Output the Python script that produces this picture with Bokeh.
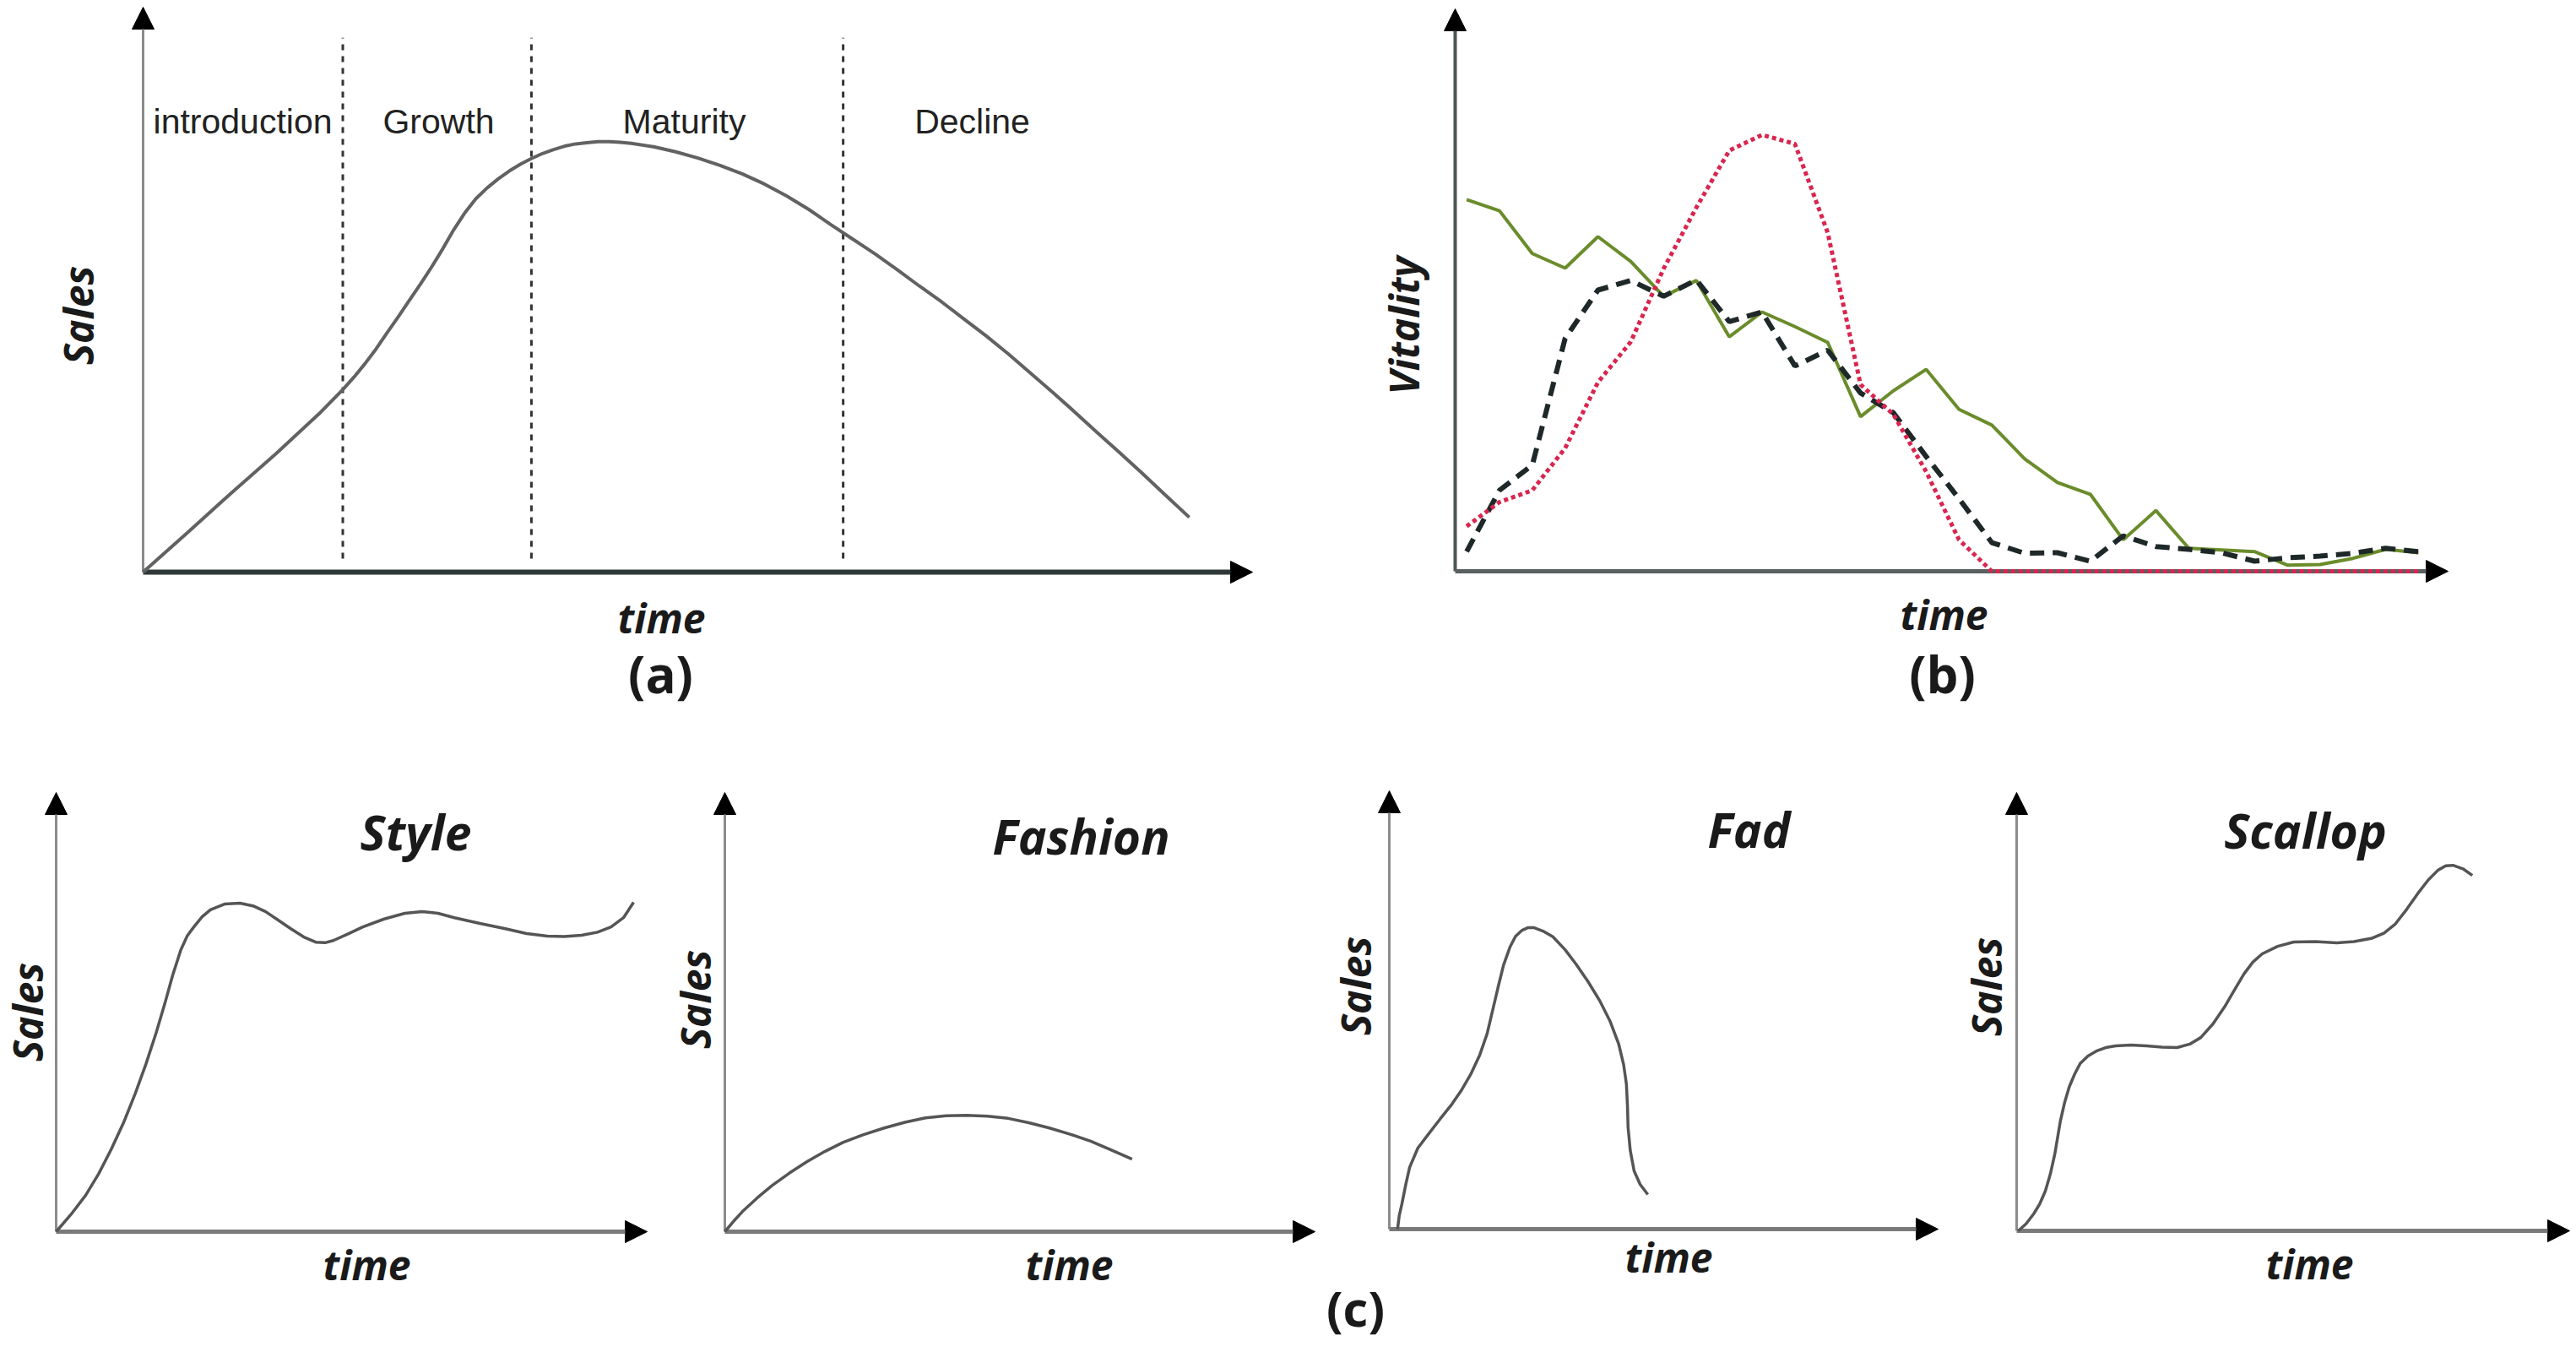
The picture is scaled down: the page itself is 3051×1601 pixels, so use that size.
import math
from bokeh.plotting import figure
from bokeh.models import Range1d, Arrow, NormalHead, Label
from bokeh.layouts import column, row
from bokeh.embed import file_html
from bokeh.resources import INLINE

# ---------------- data ----------------
# (a) product life cycle
plc_time = [0, 4, 8, 12, 16, 18, 19, 20, 21, 22, 23, 24, 25, 26, 27, 28, 29, 30, 31, 32, 33,
            34, 35, 36, 37, 38, 39, 40, 41, 42, 43, 44, 46, 48, 50, 52, 54, 56, 58, 60, 62,
            64, 66, 68, 70, 72, 74, 76, 78, 80, 82, 84, 86, 88, 90, 92, 94.3]
plc_sales = [0, 7.0, 14.1, 21.0, 28.3, 32.3, 34.5, 36.9, 39.5, 42.4, 45.2, 48.1, 51.0, 54.0,
             57.2, 60.6, 63.6, 66.1, 68.0, 69.6, 71.0, 72.2, 73.2, 74.1, 74.8, 75.4, 75.8,
             76.0, 76.2, 76.2, 76.1, 75.9, 75.3, 74.4, 73.3, 72.0, 70.5, 68.7, 66.6, 64.2,
             61.5, 58.9, 56.3, 53.5, 50.6, 47.8, 44.8, 41.8, 38.6, 35.2, 31.8, 28.3, 24.7,
             21.2, 17.6, 13.9, 9.7]
phase_bounds = [18.0, 35.0, 63.1]
phase_names = ["introduction", "Growth", "Maturity", "Decline"]

# (b) vitality of three series over time
vit_time = list(range(30))
vit_green = [66.1, 64.1, 56.5, 53.9, 59.5, 55.1, 48.9, 51.7, 41.7, 46.1, 43.5, 40.7, 27.5,
             32.1, 35.9, 28.8, 26.0, 20.0, 15.8, 13.7, 5.6, 10.8, 4.1, 3.8, 3.5, 1.1, 1.2,
             2.3, 3.9, 3.3]
vit_red = [8.0, 12.3, 14.4, 21.9, 33.6, 40.8, 53.8, 64.7, 74.8, 77.6, 76.0, 60.2, 33.2,
           27.9, 17.7, 5.6, 0, 0, 0, 0, 0, 0, 0, 0, 0, 0, 0, 0, 0, 0]
vit_black = [3.5, 14.4, 18.9, 41.4, 50.0, 51.7, 48.9, 51.8, 44.4, 46.1, 36.5, 39.3, 31.7,
             28.2, 20.4, 12.9, 5.1, 3.2, 3.3, 1.8, 6.3, 4.4, 3.9, 3.3, 1.8, 2.4, 2.7, 3.2,
             4.1, 3.5]

# (c) four life-cycle patterns
style_time = [0, 2.5, 5.0, 7.2, 9.3, 11.4, 13.4, 15.2, 16.9, 18.4, 19.7, 21.1, 22.2, 23.3,
              24.7, 26.1, 28.5, 31.1, 33.3, 35.4, 37.5, 39.7, 41.9, 44.0, 45.5, 46.9, 49.4,
              51.9, 55.5, 59.0, 61.9, 64.6, 67.4, 71.7, 76.0, 79.6, 83.1, 86.0, 88.9, 91.6,
              93.9, 96.0, 97.7]
style_sales = [0, 3.9, 8.3, 13.2, 18.7, 24.8, 31.5, 38.2, 45.2, 52.0, 58.3, 64.2, 67.4, 69.4,
               71.7, 73.3, 74.6, 74.8, 74.2, 72.9, 71.0, 69.0, 67.1, 65.9, 65.8, 66.3, 67.8,
               69.4, 71.2, 72.5, 72.9, 72.5, 71.5, 70.2, 69.0, 67.9, 67.3, 67.2, 67.5, 68.2,
               69.4, 71.5, 75.0]
fashion_time = [0, 1.5, 3, 5.5, 8, 11, 14, 17, 20, 23.5, 27, 30.5, 34, 37.5, 41, 44.5, 48,
                51.5, 55, 58.5, 62, 65.5, 69]
fashion_sales = [0, 2.4, 4.6, 7.7, 10.5, 13.4, 16.0, 18.3, 20.3, 22.1, 23.6, 24.9, 25.9,
                 26.4, 26.5, 26.3, 25.8, 24.8, 23.6, 22.2, 20.6, 18.6, 16.5]
fad_time = [1.5, 1.8, 2.3, 3.0, 3.7, 5.2, 7.2, 9.3, 11.4, 13.2, 14.9, 16.5, 17.8, 18.8, 19.8,
            20.8, 22.0, 23.0, 24.2, 25.3, 26.3, 28.0, 29.8, 32.0, 34.0, 36.2, 38.3, 40.2,
            41.8, 42.7, 43.2, 43.4, 43.5, 43.9, 44.6, 45.7, 47.1]
fad_sales = [0, 3.0, 5.8, 10.2, 14.1, 18.5, 21.8, 25.2, 28.5, 31.8, 35.5, 39.8, 44.5, 49.8,
             55.1, 60.2, 64.4, 66.8, 68.2, 68.8, 68.8, 68.0, 66.7, 63.8, 60.5, 56.5, 52.2,
             47.5, 42.2, 37.5, 33.1, 28.0, 23.3, 18.0, 13.3, 10.2, 7.9]
scallop_time = [0.3, 1.7, 3.1, 4.2, 5.2, 6.1, 6.9, 7.9, 8.7, 9.5, 10.5, 11.5, 12.9, 14.4, 16.1,
                17.9, 20.7, 23.5, 26.3, 29.0, 31.3, 33.3, 35.5, 37.6, 39.4, 41.1, 42.7, 44.4,
                47.2, 50.1, 54.0, 57.9, 61.0, 64.1, 66.4, 68.4, 70.5, 72.5, 74.4, 76.2, 77.6,
                78.9, 80.7, 82.4]
scallop_sales = [0, 1.6, 3.9, 6.2, 9.1, 13.0, 17.5, 25.0, 29.4, 32.8, 35.8, 38.2, 39.9, 41.0,
                 41.8, 42.2, 42.4, 42.2, 41.9, 41.8, 42.6, 44.1, 47.2, 51.1, 55.0, 58.6, 61.3,
                 63.2, 64.9, 65.9, 66.0, 65.7, 66.0, 66.7, 67.9, 69.9, 73.3, 76.9, 80.0, 82.3,
                 83.3, 83.4, 82.6, 81.1]

# ---------------- layout helpers ----------------
LABEL_FONT = "Open Sans"
PHASE_FONT = "Liberation Sans"


class Panel:
    def __init__(self, left, top, width, height, ox, oy, tipx, tipy, x0, xt, yt):
        self.left, self.top, self.width, self.height = left, top, width, height
        self.ox, self.oy, self.x0, self.xt, self.yt = ox, oy, x0, xt, yt
        self.sx = (tipx - ox) / (xt - x0)
        self.sy = (oy - tipy) / yt
        xs = x0 - (ox - left) / self.sx
        xe = x0 + (left + width - ox) / self.sx
        ys = -(top + height - oy) / self.sy
        ye = (oy - top) / self.sy
        p = figure(width=width, height=height, x_range=Range1d(xs, xe), y_range=Range1d(ys, ye),
                   x_axis_type=None, y_axis_type=None, toolbar_location=None,
                   output_backend="svg", min_border=0, outline_line_color=None)
        p.background_fill_color = "white"
        p.border_fill_color = "white"
        self.p = p

    def px(self, X, Y):
        return self.x0 + (X - self.ox) / self.sx, (self.oy - Y) / self.sy

    def axes(self, ycolor, ywidth, xcolor, xwidth, head=26):
        for (xe, ye, c, w) in [(self.x0, self.yt, ycolor, ywidth), (self.xt, 0, xcolor, xwidth)]:
            self.p.add_layout(Arrow(x_start=self.x0, y_start=0, x_end=xe, y_end=ye,
                                    line_color=c, line_width=w, level="underlay",
                                    end=NormalHead(size=head, fill_color="black",
                                                   line_color="black", line_width=1)))

    def label(self, X, Y, text, size, style="bold italic", font=LABEL_FONT, angle=0,
              baseline="alphabetic", color="#1a1a1a"):
        x, y = self.px(X, Y)
        self.p.add_layout(Label(x=x, y=y, text=text, text_font=font, text_font_size=f"{size}px",
                                text_font_style=style, text_align="center",
                                text_baseline=baseline, angle=angle, text_color=color))


# ---------------- panel (a) ----------------
A = Panel(0, 0, 1540, 880, 169, 677, 1483, 8, 0, 100, 100)
pa = A.p
A.axes("#8a8a8a", 3, "#2f3838", 6)
for b in phase_bounds:
    pa.line([b, b], [2.4, 94.6], line_color="#333333", line_width=3, line_dash="7 7")
pa.line(plc_time, plc_sales, line_color="#626262", line_width=4)
for name, X in zip(phase_names, [287, 519, 810, 1151]):
    A.label(X, 143, name, 41, style="normal", font=PHASE_FONT, color="#222222")
A.label(92, 373, "Sales", 48, angle=math.pi / 2, baseline="middle")
A.label(783, 731, "time", 48)
A.label(782, 797, "(a)", 60, style="bold")

# ---------------- panel (b) ----------------
B = Panel(1540, 0, 1511, 880, 1723, 676, 2899, 10, -0.35, 29.9, 100)
pb = B.p
B.axes("#4d5555", 4, "#5a6060", 5)
pb.line(vit_time, vit_green, line_color="#6a8c2b", line_width=4)
pb.line(vit_time, vit_black, line_color="#1e2828", line_width=6, line_dash="17 10")
pb.line(vit_time, vit_red, line_color="#d9254f", line_width=5, line_dash="5 4")
B.label(1662, 385, "Vitality", 48, angle=math.pi / 2, baseline="middle")
B.label(2302, 727, "time", 48)
B.label(2300, 797, "(b)", 60, style="bold")

# ---------------- panel (c) ----------------
small = [
    ("Style", (0, 880, 790, 721, 66, 1458, 766, 938), style_time, style_sales,
     (492, 984), (32, 1198), (434, 1497)),
    ("Fashion", (790, 880, 771, 721, 858, 1458, 1557, 938), fashion_time, fashion_sales,
     (1280, 989), (823, 1183), (1266, 1497)),
    ("Fad", (1561, 880, 754, 721, 1645, 1455, 2295, 936), fad_time, fad_sales,
     (2071, 981), (1605, 1167), (1976, 1488)),
    ("Scallop", (2315, 880, 736, 721, 2388, 1457, 3043, 938), scallop_time, scallop_sales,
     (2730, 982), (2352, 1168), (2735, 1496)),
]
bottom = []
for title, geo, tx, sy, tpos, spos, tmpos in small:
    P = Panel(*geo, 0, 100, 100)
    P.axes("#8c8c8c", 3, "#7a7a7a", 5)
    P.p.line(tx, sy, line_color="#555555", line_width=3.5)
    P.label(tpos[0], tpos[1], title, 57)
    P.label(spos[0], spos[1], "Sales", 48, angle=math.pi / 2, baseline="middle")
    P.label(tmpos[0], tmpos[1], "time", 48)
    if title == "Fad":
        P.label(1605, 1548, "(c)", 58, style="bold")
    bottom.append(P.p)

layout = column(row(pa, pb, spacing=0), row(*bottom, spacing=0), spacing=0)
open("out.html", "w").write(file_html(layout, INLINE))
